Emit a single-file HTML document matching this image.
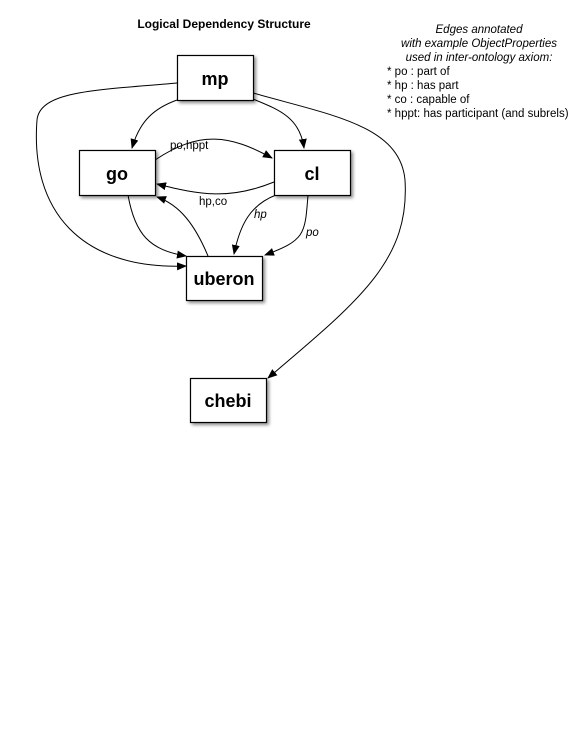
<!DOCTYPE html>
<html><head><style>
body{margin:0;background:#fff;}
svg text{font-family:"Liberation Sans",Arial,sans-serif;}
</style></head><body>
<svg width="576" height="733" viewBox="0 0 576 733" xmlns="http://www.w3.org/2000/svg">
<defs>
<marker id="a" markerWidth="10" markerHeight="8" refX="9" refY="4" orient="auto" markerUnits="userSpaceOnUse">
<path d="M0,0 L10,4 L0,8 z" fill="#000"/></marker>
<filter id="s" x="-20%" y="-20%" width="150%" height="150%"><feDropShadow dx="2" dy="2" stdDeviation="1.5" flood-opacity="0.45"/></filter>
</defs>
<text x="224" y="28" font-size="12" font-weight="bold" text-anchor="middle">Logical Dependency Structure</text>
<g font-size="11.5" font-style="italic" text-anchor="middle">
<text x="479" y="33">Edges annotated</text>
<text x="479" y="47">with example ObjectProperties</text>
<text x="479" y="61">used in inter-ontology axiom:</text>
</g>
<g font-size="11.5">
<text x="387" y="75">* po : part of</text>
<text x="387" y="89">* hp : has part</text>
<text x="387" y="103">* co : capable of</text>
<text x="387" y="117">* hppt: has participant (and subrels)</text>
</g>
<g fill="none" stroke="#000" stroke-width="1" marker-end="url(#a)">
<path d="M177,100 C155,108 140,120 132,148"/>
<path d="M253,99 C280,110 300,118 304,148"/>
<path d="M155,160 C200,130 230,135 272,158"/>
<path d="M274,182 C230,200 200,195 157,184"/>
<path d="M128,195 C135,235 150,250 186,256"/>
<path d="M208,256 C195,225 180,205 157,197"/>
<path d="M276,195 C250,205 240,225 234,254"/>
<path d="M308,195 C305,235 305,240 265,255"/>
<path d="M177,83 C100,90 40,90 37,120 C30,210 80,270 186,266"/>
<path d="M253,93 C330,115 400,125 405,180 C410,260 360,300 268,378"/>
</g>
<g font-size="11.5">
<text x="170" y="149">po,hppt</text>
<text x="199" y="205">hp,co</text>
<text x="254" y="218" font-style="italic">hp</text>
<text x="306" y="236" font-style="italic">po</text>
</g>
<g fill="#fff" stroke="#000" stroke-width="1.2" filter="url(#s)">
<rect x="177.5" y="55.5" width="76" height="45"/>
<rect x="79.5" y="150.5" width="76" height="45"/>
<rect x="274.5" y="150.5" width="76" height="45"/>
<rect x="186.5" y="256.5" width="76" height="44"/>
<rect x="190.5" y="378.5" width="76" height="44"/>
</g>
<g font-size="18" font-weight="bold" text-anchor="middle">
<text x="215" y="85">mp</text>
<text x="117" y="180">go</text>
<text x="312" y="180">cl</text>
<text x="224" y="285">uberon</text>
<text x="228" y="407">chebi</text>
</g>
</svg>
</body></html>
